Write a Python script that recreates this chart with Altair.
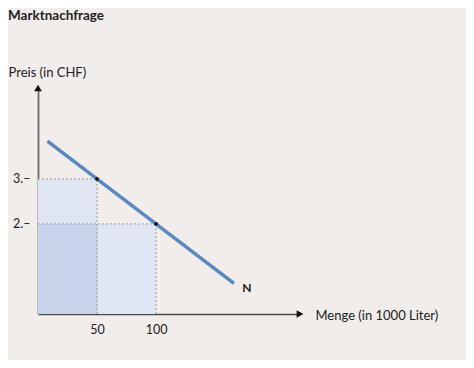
import altair as alt
import pandas as pd

# --- data ---
qty_points = [50, 100]          # Menge (in 1000 Liter)
price_points = [3, 2]           # Preis (in CHF)
line_qty = [8, 166]             # demand curve N endpoints
line_price = [3.84, 0.68]
x_ticks = [50, 100]
y_ticks = [2, 3]
x_max = 222
y_max = 5.02
label_n_qty = [177]
label_n_price = [0.58]
label_n_text = ["N"]

BG = "#f0edeb"
FONT = "Lato"
AXIS_COLOR = "#4a4a4a"
TEXT_COLOR = "#222222"

line_df = pd.DataFrame({"q": line_qty, "p": line_price})
pts_df = pd.DataFrame({"q": qty_points, "p": price_points})
rect_df = pd.DataFrame({
    "q1": [0, 0, 0],
    "q2": [qty_points[1], qty_points[0], qty_points[0]],
    "p1": [0, price_points[1], 0],
    "p2": [price_points[1], price_points[0], price_points[1]],
    "shade": ["light", "light", "dark"],
})
dash_rows = []
for q, p in zip(qty_points, price_points):
    dash_rows.append({"q1": 0, "q2": q, "p1": p, "p2": p})
    dash_rows.append({"q1": q, "q2": q, "p1": 0, "p2": p})
dash_df = pd.DataFrame(dash_rows)
arrow_df = pd.DataFrame({"q": [0, x_max], "p": [y_max, 0],
                         "shape": ["triangle-up", "triangle-right"]})
n_df = pd.DataFrame({"q": label_n_qty, "p": label_n_price, "t": label_n_text})

x_scale = alt.Scale(domain=[0, x_max], nice=False, zero=True)
y_scale = alt.Scale(domain=[0, y_max], nice=False, zero=True)

x_axis = alt.Axis(
    values=x_ticks, ticks=False, grid=False, domain=True,
    domainColor=AXIS_COLOR, domainWidth=1.5,
    labelPadding=9, labelFontSize=12.5, labelColor=TEXT_COLOR, labelFont=FONT,
    title="Menge (in 1000 Liter)", titleX=277, titleY=1, titleAlign="left",
    titleBaseline="middle", titleAngle=0, titleFontWeight="normal",
    titleFontSize=13, titleFont=FONT, titleColor=TEXT_COLOR,
)
y_axis = alt.Axis(
    values=y_ticks, ticks=False, grid=False, domain=True,
    domainColor="#6a6a6a", domainWidth=1.8,
    labelExpr="datum.value + '.–'",
    labelPadding=8, labelFontSize=12.5, labelColor=TEXT_COLOR, labelFont=FONT,
    title="Preis (in CHF)", titleX=-30, titleY=-12, titleAlign="left",
    titleBaseline="alphabetic", titleAngle=0, titleFontWeight="normal",
    titleFontSize=13, titleFont=FONT, titleColor=TEXT_COLOR,
)

rects = alt.Chart(rect_df).mark_rect(stroke=None).encode(
    x=alt.X("q1:Q", scale=x_scale, axis=x_axis),
    x2="q2:Q",
    y=alt.Y("p1:Q", scale=y_scale, axis=y_axis),
    y2="p2:Q",
    color=alt.Color("shade:N", scale=alt.Scale(domain=["light", "dark"],
                                               range=["#dfe6f2", "#c8d4e9"]),
                    legend=None),
)

dashes = alt.Chart(dash_df).mark_rule(
    color="#9a9a9a", strokeDash=[2, 2], strokeWidth=1
).encode(
    x=alt.X("q1:Q", scale=x_scale, axis=x_axis),
    x2="q2:Q",
    y=alt.Y("p1:Q", scale=y_scale, axis=y_axis),
    y2="p2:Q",
)

demand = alt.Chart(line_df).mark_line(color="#5b88c2", strokeWidth=3.5).encode(
    x=alt.X("q:Q", scale=x_scale, axis=x_axis),
    y=alt.Y("p:Q", scale=y_scale, axis=y_axis),
)

points = alt.Chart(pts_df).mark_point(filled=True, size=14, color="#111111", opacity=1).encode(
    x=alt.X("q:Q", scale=x_scale, axis=x_axis),
    y=alt.Y("p:Q", scale=y_scale, axis=y_axis),
)

arrows = alt.Chart(arrow_df).mark_point(filled=True, size=60, color="#111111", opacity=1).encode(
    x=alt.X("q:Q", scale=x_scale, axis=x_axis),
    y=alt.Y("p:Q", scale=y_scale, axis=y_axis),
    shape=alt.Shape("shape:N", scale=None, legend=None),
)

n_label = alt.Chart(n_df).mark_text(
    font=FONT, fontSize=12, fontWeight="bold", color=TEXT_COLOR
).encode(
    x=alt.X("q:Q", scale=x_scale, axis=x_axis),
    y=alt.Y("p:Q", scale=y_scale, axis=y_axis),
    text="t:N",
)

chart = alt.layer(rects, dashes, demand, points, arrows, n_label).properties(
    width=262,
    height=226,
    title=alt.TitleParams("Marktnachfrage", anchor="start", frame="group",
                          dx=-30, offset=44, fontSize=13.5, fontWeight="bold",
                          font=FONT, color=TEXT_COLOR),
    background=BG,
    autosize=alt.AutoSizeParams(type="none"),
    padding={"left": 30, "top": 80, "right": 166, "bottom": 46},
).configure_view(stroke=None)

chart.save("out.html", embed_options={"renderer": "svg", "actions": False})
